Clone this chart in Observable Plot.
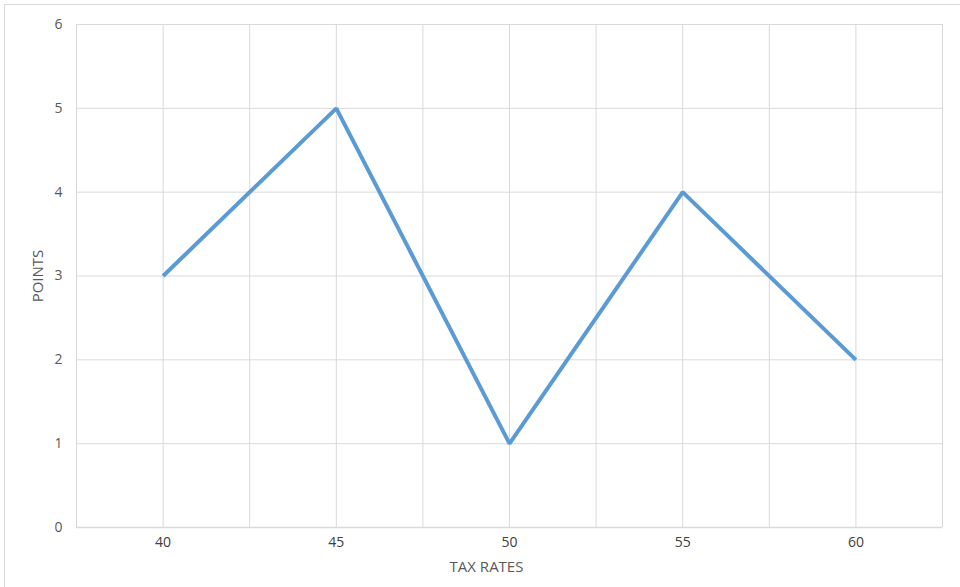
<!DOCTYPE html>
<html>
<head>
<meta charset="utf-8">
<script src="https://cdn.jsdelivr.net/npm/d3@7"></script>
<script src="https://cdn.jsdelivr.net/npm/@observablehq/plot@0.6"></script>
<style>
  html, body { margin: 0; padding: 0; background: #fff; }
  #wrap { position: relative; width: 960px; height: 587px; overflow: hidden; }
  #frame { position: absolute; left: 4px; top: 4px; width: 1000px; height: 1000px;
           border-left: 1.5px solid #d9d9d9; border-top: 1.5px solid #d9d9d9; pointer-events: none; }
  svg { font-family: "Open Sans", Calibri, sans-serif; }
</style>
</head>
<body>
<div id="wrap"><div id="frame"></div></div>
<script>
const taxRates = [40, 45, 50, 55, 60];
const points = [3, 5, 1, 4, 2];
const yTicks = [0, 1, 2, 3, 4, 5, 6];
const xGrid = [37.5, 40, 42.5, 45, 47.5, 50, 52.5, 55, 57.5, 60, 62.5];
const xTitle = "TAX RATES";
const yTitle = "POINTS";

const data = taxRates.map((t, i) => ({ rate: t, pts: points[i] }));

const chart = Plot.plot({
  width: 960,
  height: 587,
  marginLeft: 76,
  marginRight: 18,
  marginTop: 24,
  marginBottom: 60,
  style: { fontFamily: "'Open Sans', Calibri, sans-serif", fontSize: "14px", color: "#595959", background: "transparent" },
  x: { domain: [37.5, 62.5], label: null },
  y: { domain: [0, 6], label: null },
  marks: [
    Plot.gridX(xGrid, { stroke: "#d9d9d9", strokeOpacity: 1, strokeWidth: 1 }),
    Plot.gridY(yTicks, { stroke: "#d9d9d9", strokeOpacity: 1, strokeWidth: 1 }),
    Plot.ruleY([0], { stroke: "#d9d9d9", strokeWidth: 1.5 }),
    Plot.axisX(taxRates, { tickSize: 0, tickPadding: 10, fontSize: 14, fill: "#404040", label: null, tickFormat: "d" }),
    Plot.axisY(yTicks, { tickSize: 0, tickPadding: 14, fontSize: 14, fill: "#595959", label: null, tickFormat: "d" }),
    Plot.line(data, { x: "rate", y: "pts", stroke: "#5B9BD5", strokeWidth: 4, strokeLinejoin: "miter", strokeLinecap: "butt" }),
    Plot.text([xTitle], { frameAnchor: "bottom", dx: -23, dy: 44, fontSize: 15, fill: "#595959" }),
    Plot.text([yTitle], { frameAnchor: "left", textAnchor: "middle", dx: -38, dy: 0, rotate: -90, fontSize: 15, fill: "#595959" })
  ]
});
document.getElementById("wrap").prepend(chart);
</script>
</body>
</html>
